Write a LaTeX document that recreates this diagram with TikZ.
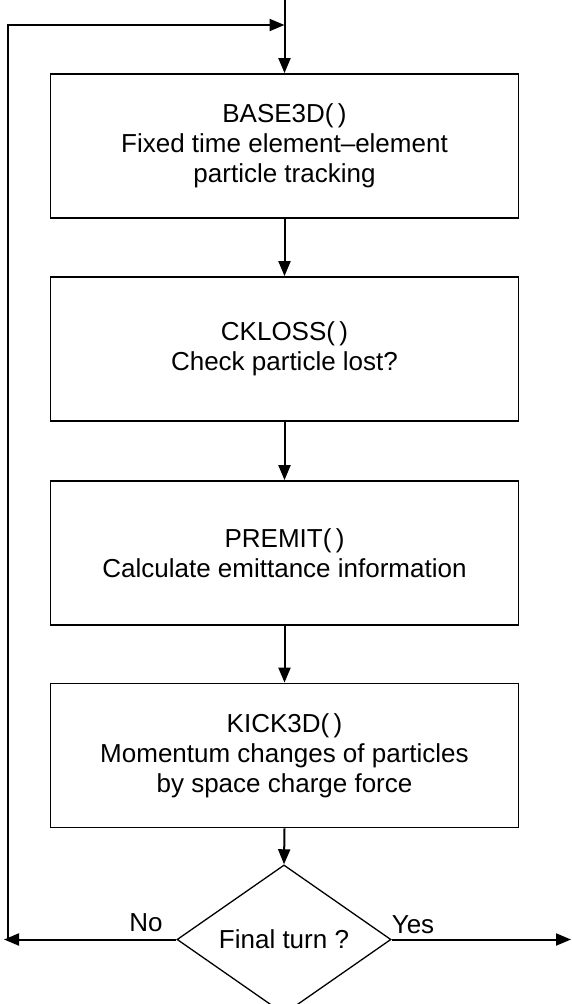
\documentclass[tikz,border=0pt]{standalone}
\usepackage{fontspec}
\setmainfont{Liberation Sans}
\usetikzlibrary{shapes.geometric,arrows.meta}

\begin{document}
\begin{tikzpicture}[x=1pt,y=-1pt,
  every node/.style={font=\fontsize{26}{30}\selectfont},
  procbox/.style={draw,line width=1.8pt,minimum width=468pt,minimum height=144pt,
                  align=center,inner sep=0pt},
  decision/.style={draw,line width=1.3pt,diamond,minimum width=214pt,
                   minimum height=125pt,inner sep=0pt},
  flow/.style={line width=2pt,-{Triangle[length=15pt,width=12pt]}}]
  \useasboundingbox (0,0) rectangle (571,1004);

  % processing steps, top to bottom
  \node[procbox] (base) at (284.5,146) {BASE3D(\,)\\Fixed time element--element\\particle tracking};
  \node[procbox] (ckloss) at (284.5,349) {CKLOSS(\,)\\Check particle lost?};
  \node[procbox] (premit) at (284.5,553) {PREMIT(\,)\\Calculate emittance information};
  \node[procbox] (kick) at (284.5,755.5) {KICK3D(\,)\\Momentum changes of particles\\by space charge force};
  \node[decision] (final) at (284,939.5) {Final turn ?};

  % loop return path
  \coordinate (entry) at (284.5,0);
  \coordinate (join) at (284.5,25);
  \coordinate (noend) at (4,939.5);
  \coordinate (corner) at (8,939.5);
  \coordinate (topleft) at (8,25);
  \coordinate (yesend) at (571,939.5);

  \draw[flow] (entry) -- (base.north);
  \draw[flow] (base.south) -- (ckloss.north);
  \draw[flow] (ckloss.south) -- (premit.north);
  \draw[flow] (premit.south) -- (kick.north);
  \draw[flow] (kick.south) -- (final.north);

  \draw[flow] (final.west) -- (noend);
  \draw[flow] (corner) -- (topleft) -- (join);
  \draw[flow] (final.east) -- (yesend);

  \node[anchor=base] (nolabel) at (146,931) {No};
  \node[anchor=base] (yeslabel) at (413,933) {Yes};
\end{tikzpicture}
\end{document}
